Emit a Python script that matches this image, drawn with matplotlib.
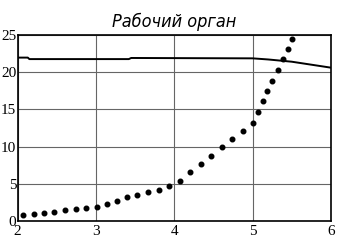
import matplotlib
matplotlib.use('Agg')
import matplotlib.pyplot as plt

# dotted series
dot_x = [2.07, 2.21, 2.34, 2.47, 2.61, 2.74, 2.87, 3.01, 3.14, 3.27, 3.40, 3.53,
         3.67, 3.80, 3.93, 4.07, 4.20, 4.34, 4.47, 4.61, 4.74, 4.88, 5.01, 5.07,
         5.13, 5.19, 5.25, 5.32, 5.39, 5.45, 5.51]
dot_y = [0.8, 0.95, 1.1, 1.25, 1.45, 1.6, 1.75, 1.95, 2.35, 2.65, 3.2, 3.45,
         3.9, 4.2, 4.7, 5.4, 6.55, 7.65, 8.7, 10.0, 11.05, 12.15, 13.15, 14.65,
         16.1, 17.45, 18.85, 20.3, 21.7, 23.1, 24.5]

# solid series
line_x = [2.0, 2.13, 2.15, 3.42, 3.45, 5.0, 5.2, 5.5, 6.0]
line_y = [21.95, 21.95, 21.75, 21.75, 21.9, 21.85, 21.7, 21.4, 20.6]

xticks = [2, 3, 4, 5, 6]
yticks = [0, 5, 10, 15, 20, 25]

fig = plt.figure(figsize=(3.39, 2.44), dpi=100)
ax = fig.add_axes([0.052, 0.094, 0.924, 0.763])

ax.plot(line_x, line_y, color='black', lw=1.4)
ax.plot(dot_x, dot_y, 'o', color='black', ms=3.3, ls='none')

ax.set_xlim(2, 6)
ax.set_ylim(0, 25)
ax.set_xticks(xticks)
ax.set_yticks(yticks)
ax.grid(True, color='#666666', lw=0.8)
ax.tick_params(axis='y', length=0, pad=1, labelsize=11)
ax.tick_params(axis='x', length=0, pad=3, labelsize=11)
for lab in ax.get_xticklabels() + ax.get_yticklabels():
    lab.set_fontfamily('Liberation Serif')
for s in ax.spines.values():
    s.set_linewidth(1.2)

ax.set_title('Рабочий орган', fontsize=13, style='italic', family='DejaVu Sans',
             fontweight='light', fontstretch='condensed', pad=6)

fig.savefig('out.png', dpi=100)
